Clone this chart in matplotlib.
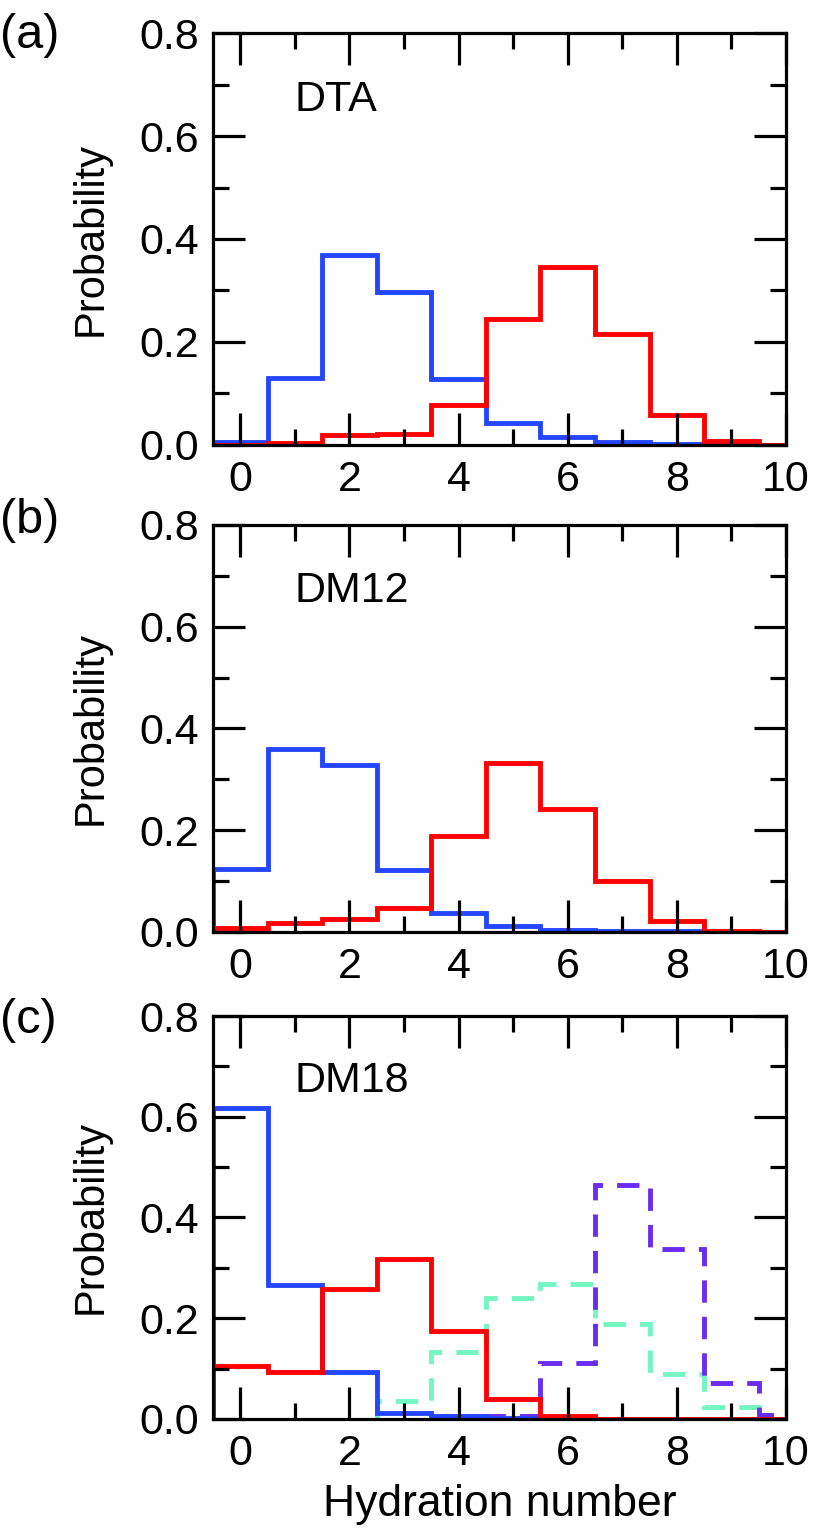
import numpy as np
import matplotlib
matplotlib.use('Agg')
import matplotlib.pyplot as plt
from matplotlib.ticker import MultipleLocator

plt.rcParams['font.family'] = ['Liberation Sans', 'DejaVu Sans']

# bins: hydration number 0..10
hyd = np.arange(0, 11)

# (a) DTA
dta_blue = [0.005, 0.131, 0.369, 0.298, 0.129, 0.043, 0.015, 0.005, 0.002, 0.001, 0.0]
dta_red = [0.0, 0.004, 0.020, 0.022, 0.077, 0.244, 0.346, 0.215, 0.059, 0.007, 0.0]

# (b) DM12
dm12_blue = [0.124, 0.360, 0.328, 0.122, 0.036, 0.012, 0.003, 0.002, 0.001, 0.0, 0.0]
dm12_red = [0.007, 0.018, 0.025, 0.046, 0.189, 0.331, 0.242, 0.100, 0.022, 0.002, 0.0]

# (c) DM18
dm18_blue = [0.617, 0.265, 0.094, 0.012, 0.005, 0.002, 0.001, 0.0, 0.0, 0.0, 0.0]
dm18_red = [0.106, 0.094, 0.259, 0.317, 0.174, 0.040, 0.005, 0.0, 0.0, 0.0, 0.0]
dm18_aqua = [0.0, 0.0, 0.0, 0.036, 0.132, 0.241, 0.267, 0.189, 0.089, 0.024, 0.0]
dm18_purple = [0.0, 0.0, 0.0, 0.0, 0.0, 0.005, 0.111, 0.464, 0.337, 0.072, 0.007]

names = ['DTA', 'DM12', 'DM18']
tags = ['(a)', '(b)', '(c)']

BLUE = '#2446ff'
RED = '#ff0000'
AQUA = '#74f5c2'
PURPLE = '#6a2cf0'
FS = 31

edges = np.append(hyd - 0.5, hyd[-1] + 0.5)


def stairs(ax, vals, color, dashed=False):
    vals = np.asarray(vals)
    start = np.nonzero(vals)[0][0] if dashed else 0
    ls = (0, (4.6, 2.9)) if dashed else '-'
    ax.stairs(vals[start:], edges[start:], baseline=0, color=color, lw=3.5, ls=ls)


fig = plt.figure(figsize=(8.14, 15.35), dpi=100)
boxes = [(0.2617, 0.7101, 0.7039, 0.2684),
         (0.2617, 0.3930, 0.7039, 0.2650),
         (0.2617, 0.0756, 0.7039, 0.2625)]
tag_y = [0.977, 0.661, 0.3355]

series = [[(dta_blue, BLUE), (dta_red, RED)],
          [(dm12_blue, BLUE), (dm12_red, RED)],
          [(dm18_aqua, AQUA), (dm18_purple, PURPLE), (dm18_blue, BLUE), (dm18_red, RED)]]

for i, box in enumerate(boxes):
    ax = fig.add_axes(box)
    for vals, c in series[i]:
        stairs(ax, vals, c, dashed=c in (AQUA, PURPLE))
    ax.set_xlim(-0.5, 10)
    ax.set_ylim(0, 0.8)
    ax.xaxis.set_major_locator(MultipleLocator(2))
    ax.xaxis.set_minor_locator(MultipleLocator(1))
    ax.yaxis.set_major_locator(MultipleLocator(0.2))
    ax.yaxis.set_minor_locator(MultipleLocator(0.1))
    ax.yaxis.set_major_formatter(lambda v, p: f'{v:.1f}')
    ax.tick_params(which='both', direction='in', top=True, right=True,
                   width=2.3, labelsize=FS)
    ax.tick_params(which='major', length=23)
    ax.tick_params(which='minor', length=11.5)
    ax.tick_params(axis='y', pad=10)
    ax.tick_params(axis='x', pad=11)
    for s in ax.spines.values():
        s.set_linewidth(2.3)
    ax.set_ylabel('Probability', fontsize=FS - 1)
    ax.yaxis.set_label_coords(-0.178, 0.5)
    ax.text(1.0, 0.67, names[i], fontsize=FS, va='center', ha='left')
    fig.text(0.0, tag_y[i], tags[i], fontsize=FS + 4, va='center', ha='left')
    if i == 2:
        ax.set_xlabel('Hydration number', fontsize=FS + 1, labelpad=7)

fig.savefig('out.png', dpi=100)
